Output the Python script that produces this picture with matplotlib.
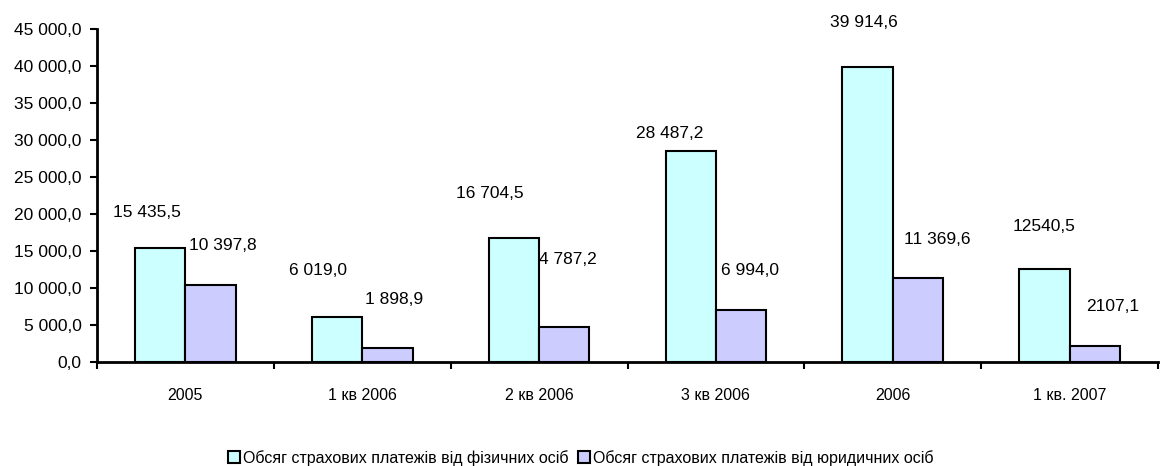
import numpy as np
import matplotlib.pyplot as plt

plt.rcParams['font.family'] = ['Liberation Sans', 'DejaVu Sans']

# ---- data ----
categories = ['2005', '1 кв 2006', '2 кв 2006', '3 кв 2006', '2006', '1 кв. 2007']
fiz = [15435.5, 6019.0, 16704.5, 28487.2, 39914.6, 12540.5]
yur = [10397.8, 1898.9, 4787.2, 6994.0, 11369.6, 2107.1]
fiz_labels = ['15 435,5', '6 019,0', '16 704,5', '28 487,2', '39 914,6', '12540,5']
yur_labels = ['10 397,8', '1 898,9', '4 787,2', '6 994,0', '11 369,6', '2107,1']
legend_names = ['Обсяг страхових платежів від фізичних осіб',
                'Обсяг страхових платежів від юридичних осіб']

# ручні зсуви підписів (пікселі), як у вихідній діаграмі Excel
fiz_off = [(-13, 35), (-19, 47), (-24, 45), (-21, 18), (-4, 44), (0, 43)]
yur_off = [(12, 40), (7, 48), (4, 67), (9, 40), (19, 38), (18, 40)]

fig = plt.figure(figsize=(11.62, 4.66), dpi=100)
ax = fig.add_axes([97 / 1162, (466 - 362) / 466, (1158 - 97) / 1162, (362 - 29) / 466])

x = np.arange(len(categories)) + 0.5
w = 0.285
ax.bar(x - w / 2, fiz, w, color='#CCFFFF', edgecolor='black', linewidth=1.5, label=legend_names[0])
ax.bar(x + w / 2, yur, w, color='#CCCCFF', edgecolor='black', linewidth=1.5, label=legend_names[1])

for i in range(len(categories)):
    ax.annotate(fiz_labels[i], (x[i] - w / 2, fiz[i]), xytext=fiz_off[i], textcoords='offset pixels',
                ha='center', va='center', fontsize=12.5)
    ax.annotate(yur_labels[i], (x[i] + w / 2, yur[i]), xytext=yur_off[i], textcoords='offset pixels',
                ha='center', va='center', fontsize=12.5)

ax.set_xlim(0, len(categories))
ax.set_ylim(0, 45000)
ax.set_yticks(np.arange(0, 45001, 5000))
ax.set_yticklabels([f'{v:,.1f}'.replace(',', ' ').replace('.', ',') for v in np.arange(0, 45001, 5000)],
                   fontsize=12.5)
ax.set_xticks(np.arange(0, len(categories) + 1))
ax.set_xticklabels([])
ax.set_xticks(x, minor=True)
ax.set_xticklabels(categories, minor=True, fontsize=11.5)
ax.tick_params(axis='x', which='major', length=5, width=1.5, direction='out')
ax.tick_params(axis='x', which='minor', length=0, pad=19)
ax.tick_params(axis='y', length=5, width=1.5, direction='out', pad=6)

for s in ['top', 'right']:
    ax.spines[s].set_visible(False)
ax.spines['left'].set_linewidth(2)
ax.spines['bottom'].set_linewidth(2)

fig.legend(loc='lower center', bbox_to_anchor=(0.5, -0.03), ncol=2, frameon=False, fontsize=11.5,
           handlelength=0.75, handleheight=0.75, handletextpad=0.2, columnspacing=0.6)

fig.savefig('out.png', dpi=100)
